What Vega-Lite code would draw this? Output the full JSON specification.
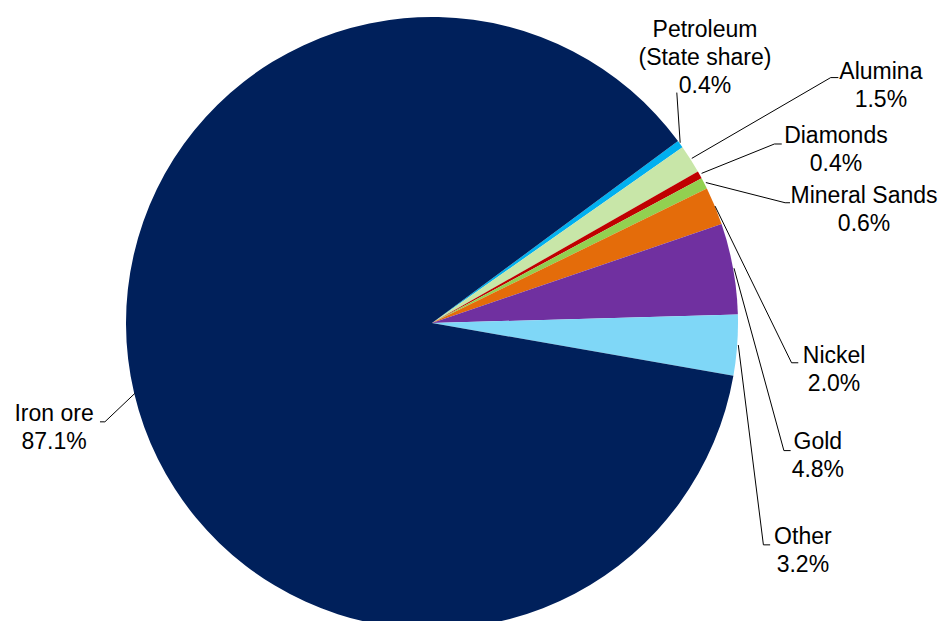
{
  "$schema": "https://vega.github.io/schema/vega-lite/v6.json",
  "width": 946,
  "height": 621,
  "padding": 0,
  "autosize": {"type": "none"},
  "background": "white",
  "config": {"view": {"stroke": null}},
  "datasets": {
    "shares": [
      {"commodity": "Petroleum (State share)", "share": 0.4, "ord": 1},
      {"commodity": "Alumina", "share": 1.5, "ord": 2},
      {"commodity": "Diamonds", "share": 0.4, "ord": 3},
      {"commodity": "Mineral Sands", "share": 0.6, "ord": 4},
      {"commodity": "Nickel", "share": 2.0, "ord": 5},
      {"commodity": "Gold", "share": 4.8, "ord": 6},
      {"commodity": "Other", "share": 3.2, "ord": 7},
      {"commodity": "Iron ore", "share": 87.1, "ord": 8}
    ],
    "labels": [
      {"commodity": "Petroleum (State share)", "label": "Petroleum\n(State share)\n0.4%", "lx": 0.892, "ly": 0.993},
      {"commodity": "Alumina", "label": "Alumina\n1.5%", "lx": 1.467, "ly": 0.856},
      {"commodity": "Diamonds", "label": "Diamonds\n0.4%", "lx": 1.320, "ly": 0.647},
      {"commodity": "Mineral Sands", "label": "Mineral Sands\n0.6%", "lx": 1.412, "ly": 0.451},
      {"commodity": "Nickel", "label": "Nickel\n2.0%", "lx": 1.314, "ly": -0.072},
      {"commodity": "Gold", "label": "Gold\n4.8%", "lx": 1.261, "ly": -0.353},
      {"commodity": "Other", "label": "Other\n3.2%", "lx": 1.212, "ly": -0.663},
      {"commodity": "Iron ore", "label": "Iron ore\n87.1%", "lx": -1.235, "ly": -0.261}
    ],
    "leaders": [
      {"commodity": "Petroleum (State share)", "seq": 1, "lx": 0.811, "ly": 0.589},
      {"commodity": "Petroleum (State share)", "seq": 2, "lx": 0.800, "ly": 0.753},
      {"commodity": "Alumina", "seq": 1, "lx": 0.849, "ly": 0.538},
      {"commodity": "Alumina", "seq": 2, "lx": 1.303, "ly": 0.802},
      {"commodity": "Alumina", "seq": 3, "lx": 1.328, "ly": 0.802},
      {"commodity": "Diamonds", "seq": 1, "lx": 0.881, "ly": 0.489},
      {"commodity": "Diamonds", "seq": 2, "lx": 1.119, "ly": 0.585},
      {"commodity": "Diamonds", "seq": 3, "lx": 1.143, "ly": 0.585},
      {"commodity": "Mineral Sands", "seq": 1, "lx": 0.895, "ly": 0.459},
      {"commodity": "Mineral Sands", "seq": 2, "lx": 1.154, "ly": 0.393},
      {"commodity": "Mineral Sands", "seq": 3, "lx": 1.170, "ly": 0.393},
      {"commodity": "Nickel", "seq": 1, "lx": 0.925, "ly": 0.382},
      {"commodity": "Nickel", "seq": 2, "lx": 1.175, "ly": -0.130},
      {"commodity": "Nickel", "seq": 3, "lx": 1.197, "ly": -0.130},
      {"commodity": "Gold", "seq": 1, "lx": 0.987, "ly": 0.179},
      {"commodity": "Gold", "seq": 2, "lx": 1.150, "ly": -0.417},
      {"commodity": "Gold", "seq": 3, "lx": 1.172, "ly": -0.417},
      {"commodity": "Other", "seq": 1, "lx": 1.001, "ly": -0.072},
      {"commodity": "Other", "seq": 2, "lx": 1.083, "ly": -0.725},
      {"commodity": "Other", "seq": 3, "lx": 1.105, "ly": -0.725},
      {"commodity": "Iron ore", "seq": 1, "lx": -0.971, "ly": -0.230},
      {"commodity": "Iron ore", "seq": 2, "lx": -1.069, "ly": -0.323},
      {"commodity": "Iron ore", "seq": 3, "lx": -1.085, "ly": -0.323}
    ]
  },
  "layer": [
    {
      "data": {"name": "shares"},
      "mark": {"type": "arc", "outerRadius": 306, "stroke": null},
      "encoding": {
        "x": {"datum": 0, "type": "quantitative", "scale": {"domain": [-1.41176, 1.67974], "nice": false, "zero": false}, "axis": null},
        "y": {"datum": 0, "type": "quantitative", "scale": {"domain": [-0.97386, 1.05556], "nice": false, "zero": false}, "axis": null},
        "theta": {"field": "share", "type": "quantitative", "stack": true, "scale": {"range": [0.9338, 7.2170]}},
        "order": {"field": "ord", "type": "quantitative"},
        "color": {
          "field": "commodity",
          "type": "nominal",
          "scale": {
            "domain": ["Petroleum (State share)", "Alumina", "Diamonds", "Mineral Sands", "Nickel", "Gold", "Other", "Iron ore"],
            "range": ["#00B0F0", "#C8E6A8", "#C00000", "#92D050", "#E46C0A", "#7030A0", "#7FD7F7", "#00205B"]
          },
          "legend": null
        }
      }
    },
    {
      "data": {"name": "leaders"},
      "mark": {"type": "line", "color": "#000000", "strokeWidth": 1},
      "encoding": {
        "x": {"field": "lx", "type": "quantitative", "axis": null},
        "y": {"field": "ly", "type": "quantitative", "axis": null},
        "detail": {"field": "commodity", "type": "nominal"},
        "order": {"field": "seq", "type": "quantitative"}
      }
    },
    {
      "data": {"name": "labels"},
      "mark": {"type": "text", "font": "Liberation Sans", "fontSize": 23, "align": "center", "baseline": "top", "lineBreak": "\n", "lineHeight": 28, "color": "#000000"},
      "encoding": {
        "x": {"field": "lx", "type": "quantitative", "axis": null},
        "y": {"field": "ly", "type": "quantitative", "axis": null},
        "text": {"field": "label", "type": "nominal"}
      }
    }
  ]
}
